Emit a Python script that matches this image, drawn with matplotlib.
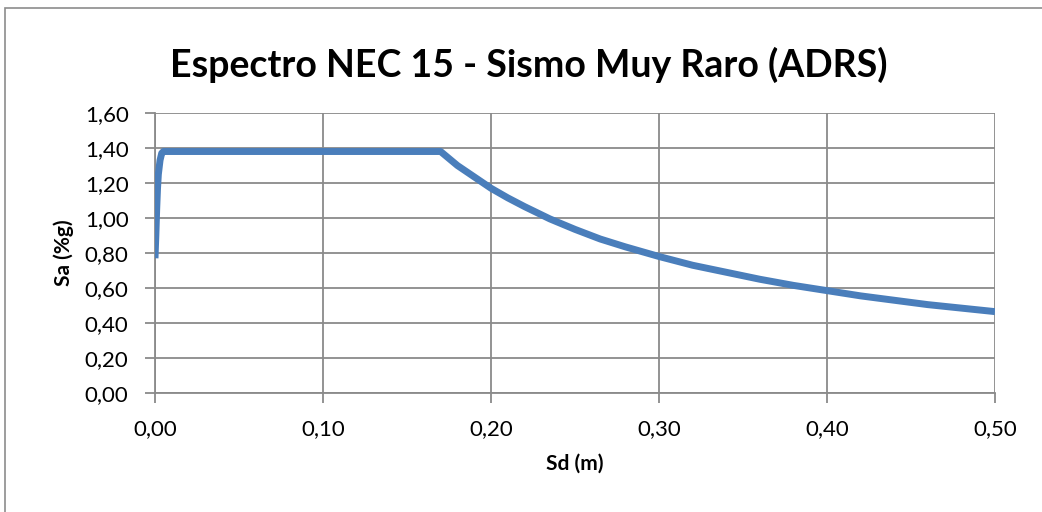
import matplotlib.pyplot as plt
from matplotlib.patches import Rectangle

plt.rcParams['font.family'] = ['Lato', 'DejaVu Sans']

# spectrum points (Sd in m, Sa in g)
sd = [0.000, 0.0005, 0.001, 0.0015, 0.002, 0.003, 0.004, 0.005, 0.170,
      0.175, 0.180, 0.190, 0.200, 0.210, 0.220, 0.235, 0.250, 0.265,
      0.280, 0.300, 0.320, 0.340, 0.360, 0.380, 0.400, 0.420, 0.440,
      0.460, 0.480, 0.500]
sa = [0.77, 0.90, 1.05, 1.17, 1.25, 1.33, 1.37, 1.38, 1.38,
      1.34, 1.30, 1.235, 1.17, 1.115, 1.065, 0.995, 0.935, 0.88,
      0.835, 0.78, 0.73, 0.69, 0.65, 0.615, 0.585, 0.555, 0.53,
      0.505, 0.485, 0.465]

x_ticks = [0.0, 0.1, 0.2, 0.3, 0.4, 0.5]
x_labels = ['0,00', '0,10', '0,20', '0,30', '0,40', '0,50']
y_ticks = [0.0, 0.2, 0.4, 0.6, 0.8, 1.0, 1.2, 1.4, 1.6]
y_labels = ['0,00', '0,20', '0,40', '0,60', '0,80', '1,00', '1,20', '1,40', '1,60']

fig = plt.figure(figsize=(10.42, 5.12), dpi=100)
ax = fig.add_axes([155 / 1042, 1 - 393 / 512, 840 / 1042, 280 / 512])

# outer chart border
fig.patches.append(Rectangle((5 / 1042, -0.1), 1.2, 1.1 - 8 / 512,
                             transform=fig.transFigure, fill=False,
                             edgecolor='#8c8c8c', linewidth=1.2))

ax.plot(sd, sa, color='#4a7ebb', linewidth=5, solid_capstyle='butt',
        solid_joinstyle='round', zorder=3)

ax.set_xlim(0, 0.5)
ax.set_ylim(0, 1.6)
ax.set_xticks(x_ticks)
ax.set_xticklabels(x_labels)
ax.set_yticks(y_ticks)
ax.set_yticklabels(y_labels)
ax.grid(True, color='#8a8a8a', linewidth=1.3)
ax.set_axisbelow(True)

for s in ['top', 'right']:
    ax.spines[s].set_visible(False)
for s in ['left', 'bottom']:
    ax.spines[s].set_color('#8a8a8a')
    ax.spines[s].set_linewidth(1.3)

ax.tick_params(direction='out', length=7, width=1.3, color='#8a8a8a',
               labelsize=16)
ax.tick_params(axis='y', pad=12)
ax.tick_params(axis='x', pad=12)

ax.set_title('Espectro NEC 15 - Sismo Muy Raro (ADRS)', fontsize=27,
             fontweight='bold', pad=26, x=0.445)
ax.set_xlabel('Sd (m)', fontsize=15, fontweight='bold', labelpad=10)
ax.set_ylabel('Sa (%g)', fontsize=15, fontweight='bold', labelpad=8)

fig.savefig('out.png', dpi=100)
